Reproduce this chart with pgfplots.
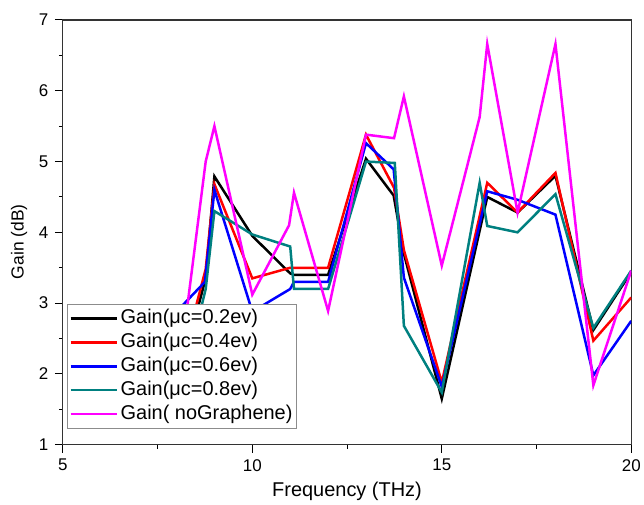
\documentclass[border=0pt]{standalone}
\usepackage{pgfplots}
\pgfplotsset{compat=1.18}
\usepackage{fontspec}
\setmainfont{Liberation Sans}
\definecolor{cteal}{RGB}{0,128,128}
\definecolor{cmag}{RGB}{255,0,255}
\begin{document}
\begin{tikzpicture}
\begin{axis}[
  scale only axis,
  width=570pt, height=426pt,
  xmin=5, xmax=20, ymin=1, ymax=7,
  xtick={5,10,15,20}, minor x tick num=1,
  ytick={1,2,3,4,5,6,7}, minor y tick num=1,
  tick pos=left, tick align=outside,
  major tick length=8pt, minor tick length=4pt,
  every tick/.style={black, line width=1pt},
  axis line style={line width=1.2pt, black!80},
  /pgf/number format/assume math mode=true,
  tick label style={font=\fontsize{17}{20}\selectfont},
  xticklabel style={yshift=-3pt},
  yticklabel style={xshift=-3pt},
  xlabel={Frequency (THz)}, ylabel={Gain (dB)},
  xlabel style={font=\fontsize{20}{24}\selectfont, at={(axis description cs:0.5,-0.110)}, anchor=center},
  ylabel style={font=\fontsize{17.5}{21}\selectfont, at={(axis description cs:-0.077,0.478)}, anchor=center},
  legend style={at={(axis description cs:0.007,0.038)}, anchor=south west,
    draw=black!45, line width=1pt, fill=white, inner sep=2pt, row sep=0pt,
    font=\fontsize{20}{24}\selectfont,
    nodes={inner sep=2pt, text height=15.5pt, text depth=4.5pt}},
  legend cell align=left,
  legend image code/.code={\draw[#1, line width=2.5pt] (0pt,0pt) -- (47pt,0pt);},
  every axis plot/.append style={line width=2.5pt, line join=miter},
]
\addplot[black] coordinates {(8,1.8) (8.77,3.35) (9,4.79) (10,3.95) (11,3.42) (11.1,3.4) (12,3.4) (13,5.04) (13.73,4.52) (14,3.7) (15,1.65) (16.2,4.5) (17,4.28) (18,4.8) (19,2.62) (20,3.44)};
\addlegendentry{Gain(μc=0.2ev)}
\addplot[red] coordinates {(8,1.9) (8.77,3.48) (9,4.68) (10,3.35) (11,3.5) (12,3.5) (13,5.38) (13.74,4.63) (14,3.75) (15,1.88) (16.2,4.7) (17,4.28) (18,4.84) (19,2.47) (20,3.08)};
\addlegendentry{Gain(μc=0.4ev)}
\addplot[blue] coordinates {(8,2.88) (8.75,3.3) (9,4.6) (10,2.88) (11,3.2) (11.1,3.3) (12,3.3) (13,5.26) (13.73,4.89) (14,3.36) (15,1.82) (16.2,4.58) (17,4.46) (18,4.25) (19,1.98) (20,2.75)};
\addlegendentry{Gain(μc=0.6ev)}
\addplot[cteal] coordinates {(8,1.5) (8.77,3.2) (9,4.3) (10,3.97) (11,3.8) (11.1,3.2) (12,3.2) (13,5.0) (13.76,4.98) (14,2.68) (15,1.74) (16,4.7) (16.2,4.09) (17,4.0) (18,4.54) (19,2.65) (20,3.46)};
\addlegendentry{Gain(μc=0.8ev)}
\addplot[cmag] coordinates {(8,1.75) (8.77,5.0) (9,5.5) (10,3.12) (10.97,4.1) (11.1,4.56) (12,2.89) (13,5.38) (13.74,5.33) (14,5.92) (15,3.53) (16,5.63) (16.2,6.66) (17,4.28) (18,6.66) (19,1.84) (20,3.46)};
\addlegendentry{Gain( noGraphene)}
\end{axis}
\path ([xshift=-63pt,yshift=-59pt]current axis.south west) rectangle ([xshift=11pt,yshift=20pt]current axis.north east);
\end{tikzpicture}
\end{document}
